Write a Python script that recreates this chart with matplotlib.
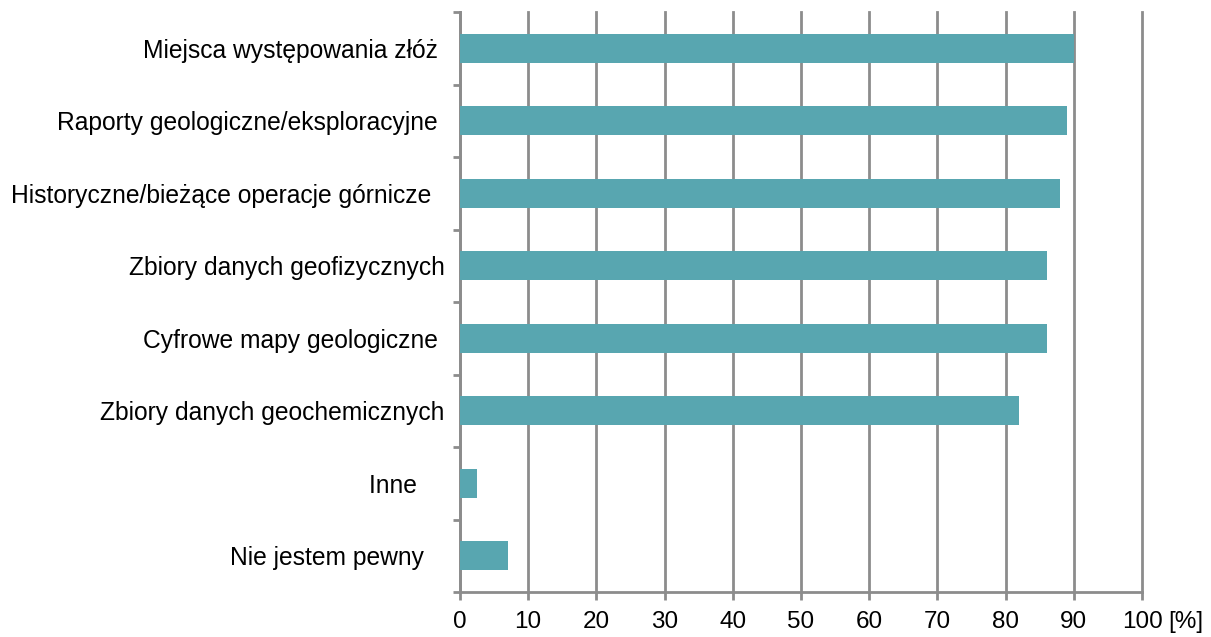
import numpy as np
import matplotlib.pyplot as plt
import matplotlib.transforms as mtransforms

plt.rcParams['font.family'] = ['Liberation Sans', 'DejaVu Sans']

categories = [
    "Miejsca występowania złóż",
    "Raporty geologiczne/eksploracyjne",
    "Historyczne/bieżące operacje górnicze",
    "Zbiory danych geofizycznych",
    "Cyfrowe mapy geologiczne",
    "Zbiory danych geochemicznych",
    "Inne",
    "Nie jestem pewny",
]
# trailing padding (in spaces) as laid out in the original
label_pad = [1, 1, 2, 0, 1, 0, 4, 3]
values = [90, 89, 88, 86, 86, 82, 2.5, 7]
x_ticks = [0, 10, 20, 30, 40, 50, 60, 70, 80, 90, 100]

bar_color = '#58a6b0'
grey = '#8c8c8c'


def main():
    fig = plt.figure(figsize=(12.11, 6.37), dpi=100)
    ax = fig.add_axes([0.3798, 0.0706, 0.5633, 0.9104])

    n = len(categories)
    pos = np.arange(n)[::-1]
    ax.barh(pos, values, height=0.4, color=bar_color, zorder=3)

    ax.set_xlim(0, 100)
    ax.set_ylim(-0.5, n - 0.5)
    ax.set_xticks(x_ticks)
    ax.set_xticklabels([str(t) for t in x_ticks], fontsize=17.5)
    ax.xaxis.grid(True, color=grey, linewidth=2, zorder=0)
    for gl in ax.get_xgridlines():
        gl.set_clip_on(False)

    # category labels without tick marks, separators as ticks
    ax.set_yticks(pos)
    ax.set_yticklabels([c + ' ' * p for c, p in zip(categories, label_pad)],
                       fontsize=17.7)
    ax.tick_params(axis='y', length=0, pad=11)
    ax.set_yticks(np.arange(n + 1) - 0.5, minor=True)
    ax.tick_params(axis='y', which='minor', length=5, width=2, color=grey)
    ax.tick_params(axis='x', length=6, width=2, color=grey, pad=8)

    for side in ['top', 'right']:
        ax.spines[side].set_visible(False)
    for side in ['left', 'bottom']:
        ax.spines[side].set_color(grey)
        ax.spines[side].set_linewidth(2)

    trans = mtransforms.blended_transform_factory(ax.transData, ax.transAxes)
    ax.annotate('[%]', xy=(100, 0), xycoords=trans, xytext=(18.5, -14),
                textcoords='offset points', fontsize=17.5, va='top', ha='left')

    fig.savefig('out.png', dpi=100)


if __name__ == "__main__":
    main()
